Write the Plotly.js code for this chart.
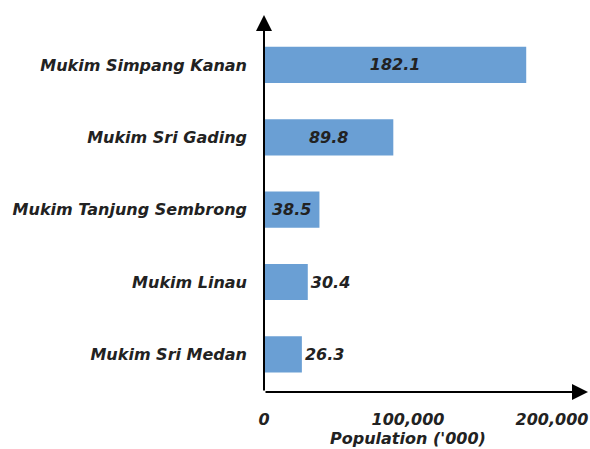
<!DOCTYPE html>
<html><head><meta charset="utf-8">
<script src="https://cdn.plot.ly/plotly-3.0.1.min.js"></script>
<style>html,body{margin:0;padding:0;background:#fff}</style>
</head><body><div id="chart" style="width:590px;height:449px"></div>
<script>
const categories = ['Mukim Simpang Kanan','Mukim Sri Gading','Mukim Tanjung Sembrong','Mukim Linau','Mukim Sri Medan'];
const population = [182100, 89800, 38500, 30400, 26300];
const barLabels = ['182.1','89.8','38.5','30.4','26.3'];
const labelPositions = ['inside','inside','inside','outside','outside'];
const tickValues = [0, 100000, 200000];
const tickLabels = ['0','100,000','200,000'];

const fnt = '"DejaVu Sans", sans-serif';
const tf = {family:fnt, size:16, color:'#222', weight:'bold', style:'italic'};
const trace = {
  type:'bar', orientation:'h', y:categories, x:population,
  text:barLabels, textposition:labelPositions, insidetextanchor:'middle',
  textfont:tf, insidetextfont:tf, outsidetextfont:tf,
  cliponaxis:false, constraintext:'none',
  marker:{color:'#6a9fd4', line:{width:0}}, width:0.5, hoverinfo:'none'
};
const layout = {
  width:590, height:449, margin:{l:264, r:2, t:15, b:57},
  paper_bgcolor:'#fff', plot_bgcolor:'#fff', showlegend:false,
  xaxis:{range:[0, 225000], tickvals:tickValues, ticktext:tickLabels, showgrid:false, zeroline:false,
    showline:false, ticks:'', ticklabelstandoff:16, tickfont:tf},
  yaxis:{type:'category', categoryarray:categories, range:[4.52, -0.69], showgrid:false, zeroline:false,
    showline:false, ticks:'', ticklabelstandoff:16, tickfont:tf},
  annotations:[
    {xref:'paper', yref:'paper', x:0, y:1, ax:0, ay:377, axref:'pixel', ayref:'pixel', text:'', showarrow:true,
     arrowhead:2, arrowsize:1.6, arrowwidth:2, arrowcolor:'#000', standoff:0},
    {xref:'paper', yref:'paper', x:1, y:0, ax:-324, ay:0, text:'', showarrow:true,
     arrowhead:2, arrowsize:1.6, arrowwidth:2, arrowcolor:'#000', standoff:0},
    {xref:'x', yref:'paper', x:tickValues[1], y:0, yanchor:'middle', yshift:-46, text:"Population ('000)", showarrow:false,
     font:tf}
  ]
};
Plotly.newPlot('chart', [trace], layout, {staticPlot:true});
</script></body></html>
